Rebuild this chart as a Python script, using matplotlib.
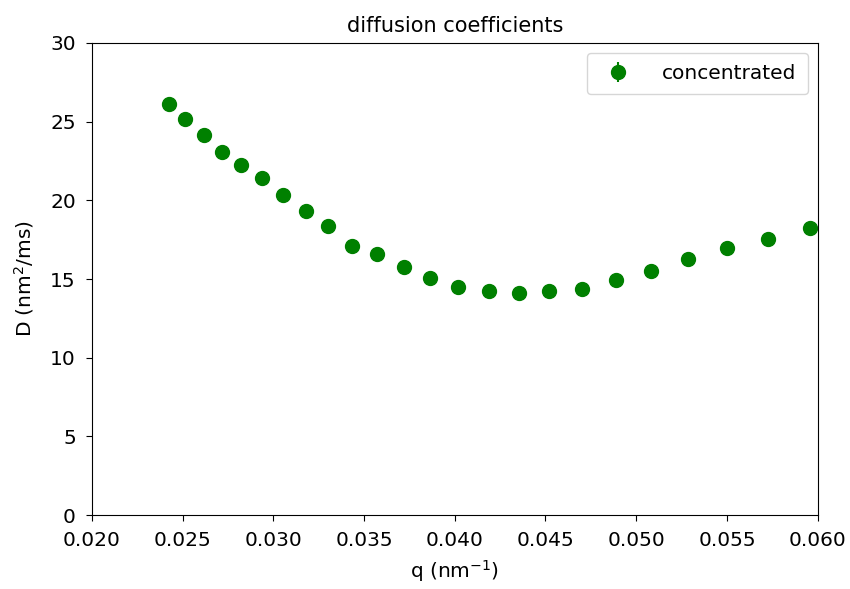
import matplotlib
matplotlib.use("Agg")
import matplotlib.pyplot as plt

# q in nm^-1, D in nm^2/ms
q = [0.02426, 0.02512, 0.02619, 0.02716, 0.02823, 0.02940, 0.03051, 0.03183,
     0.03300, 0.03433, 0.03574, 0.03719, 0.03862, 0.04018, 0.04186, 0.04353,
     0.04520, 0.04700, 0.04891, 0.05082, 0.05285, 0.05500, 0.05728, 0.05956]
D = [26.12, 25.15, 24.15, 23.05, 22.25, 21.44, 20.32, 19.34,
     18.39, 17.12, 16.59, 15.76, 15.06, 14.51, 14.26, 14.09,
     14.24, 14.38, 14.94, 15.49, 16.29, 16.99, 17.54, 18.22]
D_err = [0.25, 0.24, 0.22, 0.21, 0.20, 0.19, 0.18, 0.17,
         0.16, 0.15, 0.15, 0.14, 0.13, 0.13, 0.12, 0.12,
         0.12, 0.12, 0.12, 0.13, 0.13, 0.14, 0.14, 0.15]

plt.rcParams['font.size'] = 14.5
plt.rcParams['xtick.major.size'] = 4.5
plt.rcParams['ytick.major.size'] = 4.5
plt.rcParams['xtick.major.pad'] = 7
plt.rcParams['ytick.major.pad'] = 7

fig = plt.figure(figsize=(8.5, 5.89), dpi=100)
ax = fig.add_axes([0.108, 0.1256, 0.854, 0.8014])

ax.errorbar(q, D, yerr=D_err, fmt='o', color='green', markersize=10,
            label='concentrated')

ax.set_xlim(0.020, 0.060)
ax.set_ylim(0, 30)
ax.set_xlabel(r'q (nm$^{-1}$)', labelpad=6)
ax.set_ylabel(r'D (nm$^2$/ms)', labelpad=10)
ax.set_title('diffusion coefficients', fontsize=15, pad=8)
ax.legend(loc='upper right', handletextpad=1.2, borderpad=0.55)

fig.savefig('out.png', dpi=100)
